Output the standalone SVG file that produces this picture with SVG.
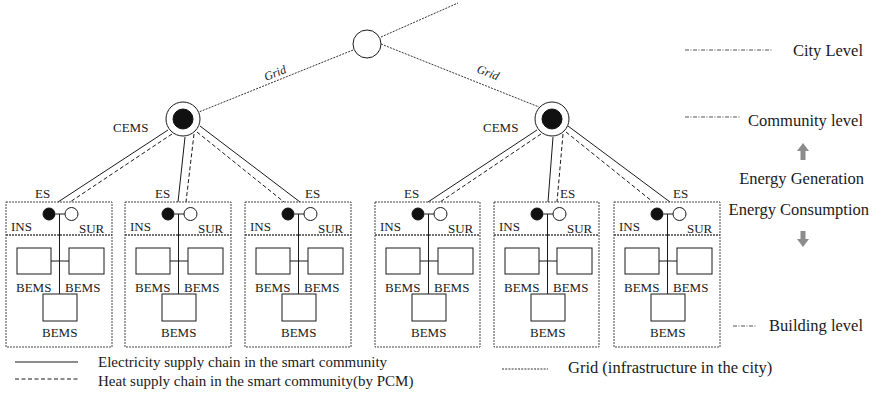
<svg xmlns="http://www.w3.org/2000/svg" width="875" height="397" viewBox="0 0 875 397">
  <style>
    text { font-family: "Liberation Serif", "Times New Roman", serif; fill: #1a1a1a; }
    .t13 { font-size: 13px; }
    .t15 { font-size: 15px; }
    .t16 { font-size: 16.5px; }
    .ln { stroke: #1a1a1a; stroke-width: 1; fill: none; }
    .heat { stroke: #1a1a1a; stroke-width: 1; stroke-dasharray: 4 2.5; fill: none; }
    .grid { stroke: #333; stroke-width: 1; stroke-dasharray: 2 1.2; fill: none; }
    .box { fill: none; stroke: #444; stroke-width: 1; stroke-dasharray: 2 1; }
    .div { stroke: #444; stroke-width: 1.4; stroke-dasharray: 2 1; }
    .lvl { stroke: #555; stroke-width: 1; stroke-dasharray: 4 1.5 1 1.5; fill: none; }
    .dev { fill: #fff; stroke: #1a1a1a; stroke-width: 1; }
    .dot { fill: #111; stroke: #111; stroke-width: 1; }
    .arrow { fill: #8c8c8c; }
  </style>

  <!-- city node -->
  <g id="city">
    <circle class="dev" cx="367" cy="44" r="14"/>
  </g>

  <!-- community energy management systems -->
  <g id="cems-left">
    <circle class="dev" cx="183" cy="119" r="17"/>
    <circle class="dot" cx="183" cy="119" r="10"/>
    <text class="t13" x="113" y="132">CEMS</text>
  </g>
  <g id="cems-right">
    <circle class="dev" cx="552" cy="119" r="17"/>
    <circle class="dot" cx="552" cy="119" r="10"/>
    <text class="t13" x="483" y="132">CEMS</text>
  </g>

  <!-- connectors -->
  <g id="connectors">
    <!-- grid -->
    <line class="grid" x1="381" y1="37" x2="458" y2="3"/>
    <line class="grid" x1="353" y1="50" x2="199" y2="112"/>
    <line class="grid" x1="381" y1="44" x2="539" y2="107"/>
    <text font-size="12" font-style="italic" text-anchor="middle" transform="translate(275,73) rotate(-21.8)" dy="4">Grid</text>
    <text font-size="12" font-style="italic" text-anchor="middle" transform="translate(488,72.5) rotate(21.8)" dy="4">Grid</text>

    <!-- left community: electricity (solid) and heat (dashed) -->
    <line class="ln" x1="168" y1="130" x2="58" y2="202"/>
    <line class="heat" x1="172" y1="134" x2="70" y2="202"/>
    <line class="ln" x1="185" y1="137" x2="178" y2="202"/>
    <line class="heat" x1="194" y1="134" x2="186" y2="202"/>
    <line class="ln" x1="200" y1="126" x2="300" y2="202"/>
    <line class="heat" x1="197" y1="132" x2="284" y2="202"/>

    <!-- right community -->
    <line class="ln" x1="537" y1="130" x2="428" y2="202"/>
    <line class="heat" x1="541" y1="134" x2="440" y2="202"/>
    <line class="ln" x1="553" y1="137" x2="548" y2="202"/>
    <line class="heat" x1="563" y1="134" x2="557" y2="202"/>
    <line class="ln" x1="568" y1="126" x2="670" y2="202"/>
    <line class="heat" x1="566" y1="132" x2="653" y2="202"/>
  </g>

  <!-- buildings -->
  <g id="building-1" transform="translate(6,0)">
    <rect class="box" x="0" y="202" width="106" height="145"/>
    <line class="div" x1="0" y1="235" x2="106" y2="235"/>
    <line class="ln" x1="49.5" y1="214" x2="59" y2="214"/>
    <line class="ln" x1="53.5" y1="214" x2="53.5" y2="294"/>
    <line class="ln" x1="45" y1="261" x2="63" y2="261"/>
    <circle class="dot" cx="43" cy="214" r="6"/>
    <circle class="dev" cx="65.5" cy="214" r="6.5"/>
    <rect class="dev" x="11" y="248" width="34" height="26"/>
    <rect class="dev" x="63" y="248" width="35" height="26"/>
    <rect class="dev" x="37" y="294" width="34" height="27"/>
    <text class="t13" x="29" y="198">ES</text>
    <text class="t13" x="5" y="231">INS</text>
    <text class="t13" x="73" y="233">SUR</text>
    <text class="t13" x="10" y="292">BEMS</text>
    <text class="t13" x="59" y="292">BEMS</text>
    <text class="t13" x="36" y="337">BEMS</text>
  </g>
  <g id="building-2" transform="translate(125,0)">
    <rect class="box" x="0" y="202" width="106" height="145"/>
    <line class="div" x1="0" y1="235" x2="106" y2="235"/>
    <line class="ln" x1="49.5" y1="214" x2="59" y2="214"/>
    <line class="ln" x1="53.5" y1="214" x2="53.5" y2="294"/>
    <line class="ln" x1="45" y1="261" x2="63" y2="261"/>
    <circle class="dot" cx="43" cy="214" r="6"/>
    <circle class="dev" cx="65.5" cy="214" r="6.5"/>
    <rect class="dev" x="11" y="248" width="34" height="26"/>
    <rect class="dev" x="63" y="248" width="35" height="26"/>
    <rect class="dev" x="37" y="294" width="34" height="27"/>
    <text class="t13" x="30" y="198">ES</text>
    <text class="t13" x="5" y="231">INS</text>
    <text class="t13" x="73" y="233">SUR</text>
    <text class="t13" x="10" y="292">BEMS</text>
    <text class="t13" x="59" y="292">BEMS</text>
    <text class="t13" x="36" y="337">BEMS</text>
  </g>
  <g id="building-3" transform="translate(245,0)">
    <rect class="box" x="0" y="202" width="106" height="145"/>
    <line class="div" x1="0" y1="235" x2="106" y2="235"/>
    <line class="ln" x1="49.5" y1="214" x2="59" y2="214"/>
    <line class="ln" x1="53.5" y1="214" x2="53.5" y2="294"/>
    <line class="ln" x1="45" y1="261" x2="63" y2="261"/>
    <circle class="dot" cx="43" cy="214" r="6"/>
    <circle class="dev" cx="65.5" cy="214" r="6.5"/>
    <rect class="dev" x="11" y="248" width="34" height="26"/>
    <rect class="dev" x="63" y="248" width="35" height="26"/>
    <rect class="dev" x="37" y="294" width="34" height="27"/>
    <text class="t13" x="60" y="198">ES</text>
    <text class="t13" x="5" y="231">INS</text>
    <text class="t13" x="73" y="233">SUR</text>
    <text class="t13" x="10" y="292">BEMS</text>
    <text class="t13" x="59" y="292">BEMS</text>
    <text class="t13" x="36" y="337">BEMS</text>
  </g>
  <g id="building-4" transform="translate(375,0)">
    <rect class="box" x="0" y="202" width="105" height="145"/>
    <line class="div" x1="0" y1="235" x2="105" y2="235"/>
    <line class="ln" x1="49.5" y1="214" x2="59" y2="214"/>
    <line class="ln" x1="53.5" y1="214" x2="53.5" y2="294"/>
    <line class="ln" x1="45" y1="261" x2="63" y2="261"/>
    <circle class="dot" cx="43" cy="214" r="6"/>
    <circle class="dev" cx="65.5" cy="214" r="6.5"/>
    <rect class="dev" x="11" y="248" width="34" height="26"/>
    <rect class="dev" x="63" y="248" width="35" height="26"/>
    <rect class="dev" x="37" y="294" width="34" height="27"/>
    <text class="t13" x="29" y="198">ES</text>
    <text class="t13" x="5" y="231">INS</text>
    <text class="t13" x="73" y="233">SUR</text>
    <text class="t13" x="10" y="292">BEMS</text>
    <text class="t13" x="59" y="292">BEMS</text>
    <text class="t13" x="36" y="337">BEMS</text>
  </g>
  <g id="building-5" transform="translate(494,0)">
    <rect class="box" x="0" y="202" width="105" height="145"/>
    <line class="div" x1="0" y1="235" x2="105" y2="235"/>
    <line class="ln" x1="49.5" y1="214" x2="59" y2="214"/>
    <line class="ln" x1="53.5" y1="214" x2="53.5" y2="294"/>
    <line class="ln" x1="45" y1="261" x2="63" y2="261"/>
    <circle class="dot" cx="43" cy="214" r="6"/>
    <circle class="dev" cx="65.5" cy="214" r="6.5"/>
    <rect class="dev" x="11" y="248" width="34" height="26"/>
    <rect class="dev" x="63" y="248" width="35" height="26"/>
    <rect class="dev" x="37" y="294" width="34" height="27"/>
    <text class="t13" x="66" y="198">ES</text>
    <text class="t13" x="5" y="231">INS</text>
    <text class="t13" x="73" y="233">SUR</text>
    <text class="t13" x="10" y="292">BEMS</text>
    <text class="t13" x="59" y="292">BEMS</text>
    <text class="t13" x="36" y="337">BEMS</text>
  </g>
  <g id="building-6" transform="translate(614,0)">
    <rect class="box" x="0" y="202" width="106" height="145"/>
    <line class="div" x1="0" y1="235" x2="106" y2="235"/>
    <line class="ln" x1="49.5" y1="214" x2="59" y2="214"/>
    <line class="ln" x1="53.5" y1="214" x2="53.5" y2="294"/>
    <line class="ln" x1="45" y1="261" x2="63" y2="261"/>
    <circle class="dot" cx="43" cy="214" r="6"/>
    <circle class="dev" cx="65.5" cy="214" r="6.5"/>
    <rect class="dev" x="11" y="248" width="34" height="26"/>
    <rect class="dev" x="63" y="248" width="35" height="26"/>
    <rect class="dev" x="37" y="294" width="34" height="27"/>
    <text class="t13" x="59" y="198">ES</text>
    <text class="t13" x="5" y="231">INS</text>
    <text class="t13" x="73" y="233">SUR</text>
    <text class="t13" x="10" y="292">BEMS</text>
    <text class="t13" x="59" y="292">BEMS</text>
    <text class="t13" x="36" y="337">BEMS</text>
  </g>

  <!-- level markers -->
  <g id="levels">
    <line class="lvl" x1="685" y1="50" x2="772" y2="50"/>
    <text class="t16" x="863" y="56" text-anchor="end">City Level</text>
    <line class="lvl" x1="685" y1="117" x2="741" y2="117"/>
    <text class="t16" x="863" y="126" text-anchor="end">Community level</text>
    <path class="arrow" d="M803,143 L809,151 L805.5,151 L805.5,160 L800.5,160 L800.5,151 L797,151 Z"/>
    <text class="t16" x="864" y="184" text-anchor="end">Energy Generation</text>
    <text class="t16" x="869" y="215" text-anchor="end">Energy Consumption</text>
    <path class="arrow" d="M800.5,231 L805.5,231 L805.5,239 L809,239 L803,247 L797,239 L800.5,239 Z"/>
    <line class="lvl" x1="733" y1="326" x2="757" y2="326"/>
    <text class="t16" x="863" y="331" text-anchor="end">Building level</text>
  </g>

  <!-- legend -->
  <g id="legend">
    <line class="ln" x1="15" y1="362" x2="78" y2="362"/>
    <text class="t15" x="98" y="367">Electricity supply chain in the smart community</text>
    <line class="heat" x1="15" y1="379" x2="78" y2="379" stroke-dasharray="3 2"/>
    <text class="t15" x="98" y="386">Heat supply chain in the smart community(by PCM)</text>
    <line class="grid" x1="502" y1="369" x2="548" y2="369"/>
    <text class="t16" x="568" y="373">Grid (infrastructure in the city)</text>
  </g>
</svg>
